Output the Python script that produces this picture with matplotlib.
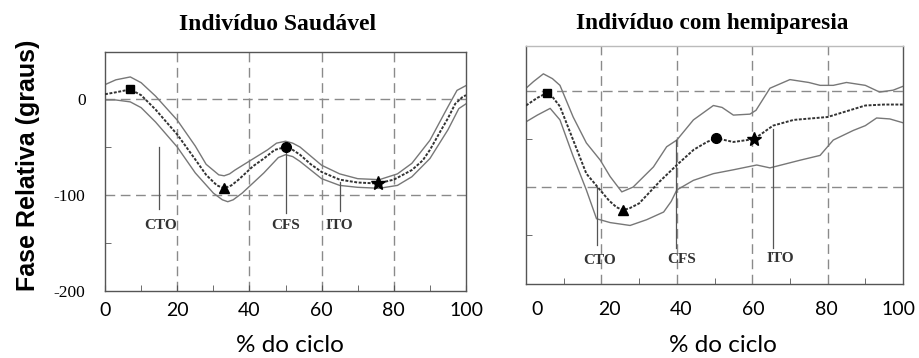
import numpy as np
import matplotlib
matplotlib.use("Agg")
import matplotlib.pyplot as plt

# ---- dados ----
# individuo saudavel
x_s_mean = [0, 3, 7, 10, 14, 17, 20, 25, 28, 31, 33, 35, 37, 41, 44, 47, 50, 52, 54, 57, 60, 65, 70, 75.5, 80, 85, 88, 90, 93, 95, 97, 99, 100]
y_s_mean = [5, 7, 10, 4, -11, -24, -37, -63, -79, -90, -93, -90, -84, -70, -62, -53, -50, -53, -58, -68, -76, -84, -87, -88, -84, -74, -64, -53, -33, -20, -5, 2, 4]
x_s_up = [0, 3, 7, 10, 14, 20, 25, 28, 31.5, 33, 34.5, 36, 39, 45, 47.5, 50, 52, 54, 60, 65, 70, 76, 81, 85, 90, 95, 97.5, 100]
y_s_up = [15, 20, 23, 17, 3, -22, -49, -68, -79, -80, -78, -74, -67, -53, -46, -44, -46, -50, -69, -78, -83, -84, -78, -67, -43, -8, 9, 14]
x_s_low = [0, 3, 7, 10, 14, 20, 25, 30, 32.5, 34, 35.5, 38, 44, 48, 50, 52, 54, 60, 65, 70, 76, 81, 85, 90, 95, 98, 100]
y_s_low = [-1, -1, -3, -9, -24, -50, -77, -98, -105, -107, -105, -98, -77, -61, -58, -60, -65, -83, -90, -92, -93, -90, -81, -62, -32, -10, -5]

# individuo com hemiparesia
x_h_mean = [0, 3, 5.5, 7, 9, 12.5, 16, 19, 22, 24, 25.7, 27.5, 30, 35.5, 40, 44.5, 48, 50.4, 55, 60.5, 65.5, 71, 80, 85, 90, 95, 100]
y_h_mean = [-15, -7, -2, -6, -16, -51, -86, -100, -114, -121, -124, -122, -117, -94, -77, -61, -53, -49, -53, -50, -36, -30, -27, -21, -15, -14, -14]
x_h_up = [0, 2, 4.6, 7, 9, 12.5, 16, 19.7, 22.3, 25.4, 28.4, 33.8, 37.3, 40, 44.4, 49.7, 52, 55, 59.4, 61, 64.7, 70, 75, 78, 81.5, 85, 90, 93.8, 97.4, 100]
y_h_up = [3, 10, 18, 13, 6, -27, -54, -72, -89, -105, -100, -79, -58, -51, -30, -15, -17, -25, -24, -20, 3, 12, 9, 6, 6, 9, 6, -1, 1, 5]
x_h_low = [0, 3, 6.4, 9, 12.5, 16, 18.7, 22.3, 27.6, 32, 36.5, 38.5, 40, 44.4, 49.7, 55, 61.2, 64.7, 72.7, 78, 81.5, 86.8, 90, 93, 96.5, 100]
y_h_low = [-32, -25, -18, -30, -68, -103, -133, -137, -140, -134, -126, -115, -103, -93, -86, -82, -77, -80, -72, -67, -51, -41, -36, -28, -29, -33]

# marcadores: quadrado, triangulo, circulo, estrela
mk_shapes = ["s", "^", "o", "*"]
mk_sizes = [6, 7, 7, 10]
s_mk_x = [7, 33, 50, 75.5]
s_mk_y = [10, -93, -50, -88]
h_mk_x = [5.5, 25.7, 50.4, 60.5]
h_mk_y = [-2, -124, -49, -50]

# eventos (CTO, CFS, ITO)
ev_names = ["CTO", "CFS", "ITO"]
s_ev_x = [15, 50, 65]
s_ev_top = [-50, -50, -86]
s_ev_bot = [-115, -119, -117]
s_lab_x = [15.5, 50, 65]
s_lab_y = [-132, -132, -132]
h_ev_x = [18.7, 39.8, 65.4]
h_ev_top = [-100, -51, -40]
h_ev_bot = [-160, -163, -163]
h_lab_x = [19.5, 41.3, 67.4]
h_lab_y = [-176, -175, -174]

xticks = [0, 20, 40, 60, 80, 100]

fig = plt.figure(figsize=(9.19, 3.58), dpi=100)
ax1 = fig.add_axes([0.1143, 0.1872, 0.3928, 0.6676])
ax2 = fig.add_axes([0.5724, 0.2067, 0.4102, 0.6648])


def desenha(ax, xm, ym, xu, yu, xl, yl, mx, my, evx, evt, evb, lx, ly, ylim):
    ax.set_xlim(0, 100)
    ax.set_ylim(*ylim)
    for v in [20, 40, 60, 80]:
        ax.axvline(v, color="#8a8a8a", lw=1, dashes=(7, 4), zorder=1)
    for v in [0, -100]:
        ax.axhline(v, color="#8a8a8a", lw=1, dashes=(7, 4), zorder=1)
    ax.plot(xu, yu, color="#777777", lw=1.0, zorder=2)
    ax.plot(xl, yl, color="#777777", lw=1.0, zorder=2)
    ax.plot(xm, ym, color="#333333", lw=1.4, dashes=(1.5, 0.8), zorder=3)
    for k in range(4):
        ax.plot(mx[k], my[k], marker=mk_shapes[k], ms=mk_sizes[k], color="black", zorder=4)
    for k in range(3):
        ax.plot([evx[k], evx[k]], [evt[k], evb[k]], color="#555555", lw=0.9, zorder=2)
        ax.text(lx[k], ly[k], ev_names[k], ha="center", va="center", fontsize=11,
                fontweight="bold", family="Liberation Serif", color="#333333")
    for s in ax.spines.values():
        s.set_color("#555555")
        s.set_linewidth(1.0)
    ax.set_xticks([10, 30, 50, 70, 90], minor=True)
    ax.set_yticks([-50, -150], minor=True)
    ax.tick_params(which="both", direction="in", color="#555555", length=4)


desenha(ax1, x_s_mean, y_s_mean, x_s_up, y_s_up, x_s_low, y_s_low, s_mk_x, s_mk_y,
        s_ev_x, s_ev_top, s_ev_bot, s_lab_x, s_lab_y, (-200, 49))
desenha(ax2, x_h_mean, y_h_mean, x_h_up, y_h_up, x_h_low, y_h_low, h_mk_x, h_mk_y,
        h_ev_x, h_ev_top, h_ev_bot, h_lab_x, h_lab_y, (-201, 47))

ax1.set_xticks(xticks)
ax1.set_xticklabels([str(v) for v in xticks], fontsize=14, family="Lato")
ax1.set_yticks([0, -100, -200])
ax1.set_yticklabels(["0", "-100", "-200"], fontsize=12.5, family="Liberation Serif")
ax1.tick_params(axis="y", which="major", pad=14, length=0)
ax1.tick_params(axis="x", which="major", pad=8)

# no segundo painel os rotulos do eixo x aparecem um pouco deslocados
ax2.set_xticks([2.9 + 0.958 * v for v in xticks])
ax2.set_xticklabels([str(v) for v in xticks], fontsize=14, family="Lato")
ax2.tick_params(axis="x", which="major", length=0, pad=12)
ax2.set_yticks([])
ax2.set_yticks([-50, -150], minor=True)
ax2.spines["top"].set_color("#bbbbbb")

fig.text(290 / 919, 1 - 346 / 358, "% do ciclo", ha="center", va="center", fontsize=17.5, family="Lato")
fig.text(723 / 919, 1 - 346 / 358, "% do ciclo", ha="center", va="center", fontsize=17.5, family="Lato")
fig.text(28 / 919, 1 - 165 / 358, "Fase Relativa (graus)", rotation=90, ha="center", va="center",
         fontsize=18, fontweight="bold", family="Liberation Sans")
fig.text(278 / 919, 1 - 25 / 358, "Indivíduo Saudável", ha="center", va="center",
         fontsize=17, fontweight="bold", family="Liberation Serif")
fig.text(712 / 919, 1 - 23 / 358, "Indivíduo com hemiparesia", ha="center", va="center",
         fontsize=16.8, fontweight="bold", family="Liberation Serif")

fig.savefig("out.png", dpi=100, facecolor="white")
